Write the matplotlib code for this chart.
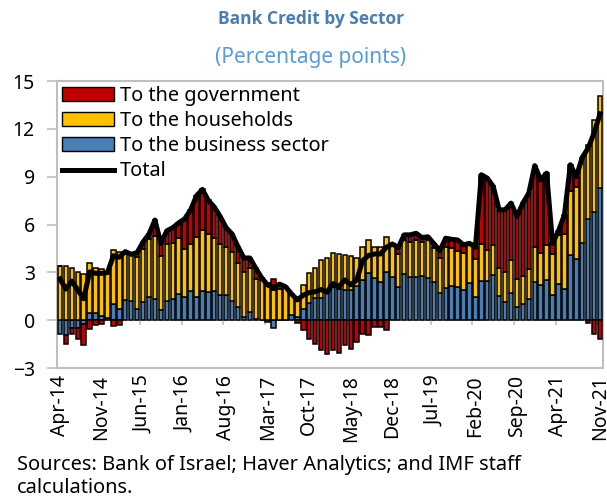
import numpy as np
import matplotlib
matplotlib.use("Agg")
import matplotlib.pyplot as plt
from matplotlib.patches import Patch
from matplotlib.lines import Line2D

plt.rcParams['font.family'] = ['Noto Sans', 'DejaVu Sans']

# monthly, Apr-2014 .. Nov-2021
month_names = ['Jan', 'Feb', 'Mar', 'Apr', 'May', 'Jun', 'Jul', 'Aug', 'Sep', 'Oct', 'Nov', 'Dec']
dates = []
for k in range(92):
    m = (3 + k) % 12
    yr = 14 + (3 + k) // 12
    dates.append(f"{month_names[m]}-{yr}")

business = [
    -0.84, -0.94, -0.52, -0.52, -0.27, 0.48, 0.48, 0.27, 0.15, 1.00,
    0.67, 1.24, 1.20, 0.67, 1.15, 1.43, 1.34, 0.63, 1.22, 1.30,
    1.63, 1.43, 1.84, 1.43, 1.84, 1.78, 1.84, 1.57, 1.57, 1.20,
    0.84, 0.20, 0.52, 0.05, 0.00, -0.10, -0.50, 0.00, 0.00, 0.31,
    0.20, 0.67, 1.05, 1.36, 1.36, 1.72, 2.10, 1.93, 1.89, 1.90,
    2.14, 2.50, 2.93, 2.62, 2.37, 3.04, 2.68, 2.10, 2.87, 2.73,
    2.68, 2.77, 2.62, 2.41, 1.68, 1.99, 2.14, 2.05, 1.89, 2.31,
    1.43, 2.47, 2.47, 2.83, 1.51, 1.15, 1.68, 0.80, 1.00, 1.30,
    2.41, 2.20, 2.52, 1.57, 2.24, 1.97, 4.09, 3.82, 4.82, 6.33,
    6.81, 8.28]

households = [
    3.42, 3.42, 3.29, 3.04, 2.87, 3.12, 2.77, 2.92, 2.83, 3.40,
    3.59, 3.06, 2.93, 3.27, 3.32, 3.67, 3.94, 3.42, 3.58, 3.56,
    3.51, 3.04, 2.94, 3.77, 3.82, 3.63, 3.30, 3.21, 3.03, 3.10,
    2.76, 2.80, 2.78, 2.55, 2.50, 2.30, 1.90, 1.93, 2.10, 1.34,
    1.27, 1.53, 1.88, 1.89, 2.41, 2.18, 2.09, 2.22, 2.20, 2.10,
    1.74, 2.07, 2.07, 1.95, 2.20, 2.16, 2.10, 2.05, 2.13, 2.20,
    2.32, 2.16, 2.41, 2.09, 2.20, 2.62, 2.36, 2.31, 2.34, 2.41,
    2.39, 2.31, 1.93, 1.89, 1.74, 1.89, 2.09, 1.76, 1.77, 1.89,
    2.16, 2.03, 2.20, 2.58, 3.11, 3.43, 3.98, 4.52, 5.38, 4.67,
    5.77, 5.81]

government = [
    0.00, -0.53, -0.32, -0.63, -1.26, -0.57, -0.31, -0.25, 0.00, -0.36,
    -0.31, 0.00, 0.00, 0.30, 0.43, 0.30, 1.00, 0.77, 0.80, 0.94,
    0.96, 1.88, 2.12, 2.60, 2.54, 2.10, 1.96, 1.72, 1.20, 1.10,
    1.00, 0.90, 0.60, 0.65, 0.15, 0.00, 0.66, 0.33, 0.00, 0.00,
    -0.20, -0.63, -1.20, -1.47, -1.85, -2.14, -1.90, -2.05, -1.57, -1.78,
    -1.36, -0.84, -0.94, -0.42, -0.42, -0.63, 0.00, 0.40, 0.35, 0.42,
    0.45, 0.25, 0.20, 0.30, 0.48, 0.53, 0.57, 0.67, 0.49, 0.10,
    0.75, 4.34, 4.51, 3.67, 3.67, 3.88, 3.57, 3.94, 4.57, 4.78,
    5.12, 4.57, 4.50, 0.67, 0.25, 1.20, 1.68, 0.66, 0.00, -0.20,
    -0.84, -1.15]

bus = np.array(business)
hh = np.array(households)
gov = np.array(government)
total = bus + hh + gov
x = np.arange(len(dates))

c_gov = '#c00000'
c_hh = '#ffc000'
c_bus = '#4a7db3'

fig = plt.figure(figsize=(6.07, 5.03), dpi=100)
ax = fig.add_axes([57/607, 1-368/503, 546/607, 287/503])

# stacked bars, positives up and negatives down
pos = np.zeros(len(x))
neg = np.zeros(len(x))
for vals, col in [(bus, c_bus), (hh, c_hh), (gov, c_gov)]:
    bottom = np.where(vals >= 0, pos, neg)
    ax.bar(x, vals, bottom=bottom, width=0.75, color=col, edgecolor='black',
           linewidth=1.1, zorder=3)
    pos = pos + np.where(vals >= 0, vals, 0)
    neg = neg + np.where(vals < 0, vals, 0)

ax.plot(x, total, color='black', lw=3.6, zorder=5, solid_joinstyle='round')

# zero line with category ticks
ax.axhline(0, color='#bfbfbf', lw=1.5, zorder=2)
ax.vlines(np.arange(6.5, len(x), 7), -0.28, 0, color='#bfbfbf', lw=1.2, zorder=2)

ax.set_xlim(-0.5, len(x) - 0.5)
ax.set_ylim(-3, 15)
ax.set_yticks(np.arange(-3, 16, 3))
ax.set_xticks(x[::7])
ax.set_xticklabels(dates[::7], rotation=90)
ax.tick_params(axis='x', length=0, labelsize=14, pad=5)
ax.tick_params(axis='y', length=7, color='#bfbfbf', width=1.2, labelsize=14, pad=9)
for s in ax.spines.values():
    s.set_color('#bfbfbf')
    s.set_linewidth(1.5)

handles = [Patch(facecolor=c_gov, edgecolor='black', label='To the government'),
           Patch(facecolor=c_hh, edgecolor='black', label='To the households'),
           Patch(facecolor=c_bus, edgecolor='black', label='To the business sector'),
           Line2D([], [], color='black', lw=3.6, label='Total')]
ax.legend(handles=handles, loc='upper left', bbox_to_anchor=(0.0, 1.0), frameon=False,
          fontsize=14.3, handlelength=2.6, handleheight=0.7, handletextpad=0.3,
          labelspacing=0.26, borderpad=0.15, borderaxespad=0.1)

fig.text(0.512, 0.962, 'Bank Credit by Sector', ha='center', va='center',
         fontsize=12.5, fontweight='bold', color='#4a7eb0',
         family=['Open Sans', 'Lato', 'DejaVu Sans'])
fig.text(0.512, 0.885, '(Percentage points)', ha='center', va='center',
         fontsize=15, color='#5b9bd5')
fig.text(0.028, 0.095, 'Sources: Bank of Israel; Haver Analytics; and IMF staff\ncalculations.',
         ha='left', va='top', fontsize=14.4, linespacing=1.2)

fig.savefig('out.png', dpi=100)
